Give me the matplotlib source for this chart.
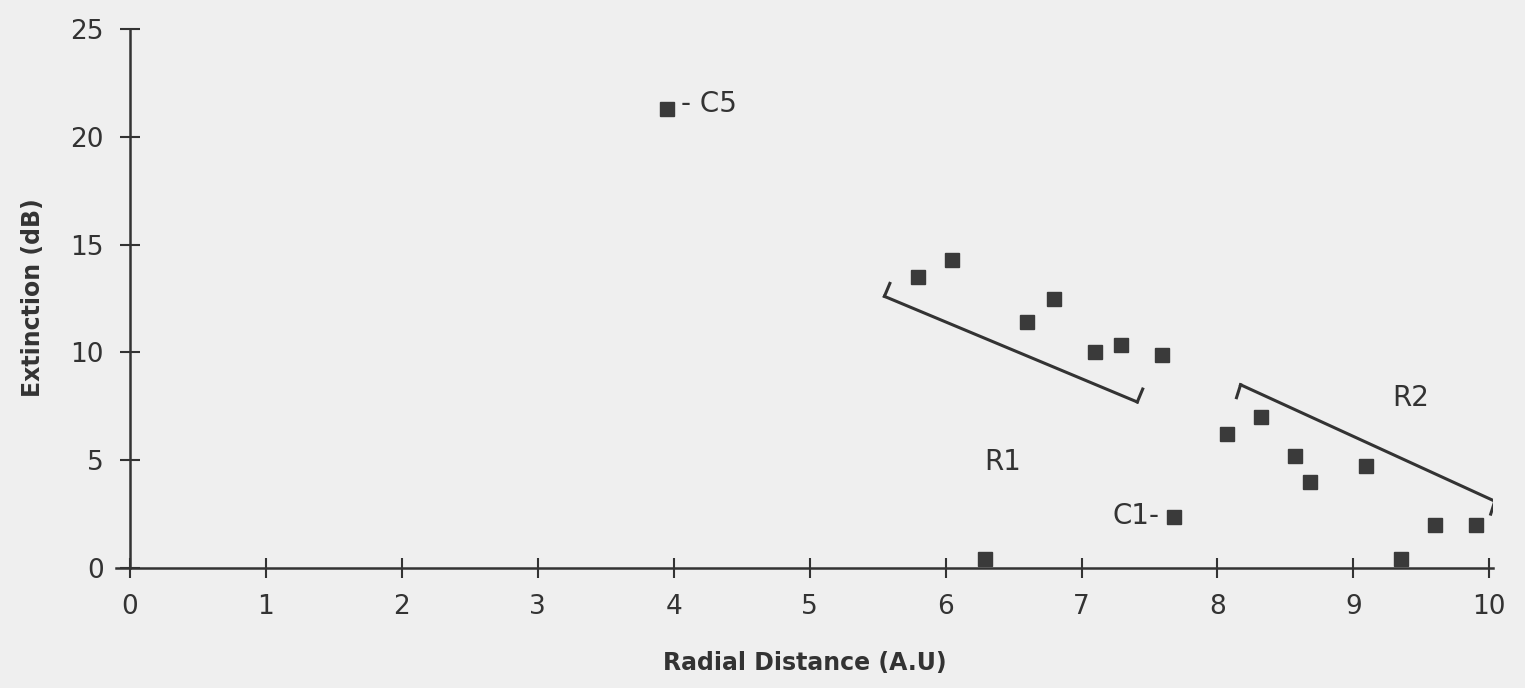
import matplotlib.pyplot as plt
import numpy as np

# measured points (radial distance, extinction dB)
dist = [3.95, 5.80, 6.05, 6.60, 6.80, 7.10, 7.29, 7.59, 6.29, 7.68,
        8.07, 8.32, 8.57, 8.68, 9.09, 9.35, 9.60, 9.90]
ext = [21.3, 13.5, 14.3, 11.4, 12.5, 10.0, 10.35, 9.9, 0.4, 2.35,
       6.2, 7.0, 5.2, 4.0, 4.75, 0.4, 2.0, 2.0]

# hand drawn trend lines
r1_x = [5.55, 7.41]
r1_y = [12.6, 7.7]
r2_x = [8.17, 10.04]
r2_y = [8.5, 3.1]

xticks = list(range(0, 11))
yticks = [0, 5, 10, 15, 20, 25]

bg = '#efefef'
ink = '#333333'

fig = plt.figure(figsize=(15.25, 6.88), dpi=100, facecolor=bg)
ax = fig.add_axes([0.0763, 0.1744, 0.903, 0.7866], facecolor=bg)

ax.plot(dist, ext, 's', ms=10, color='#3a3a3a', zorder=3, clip_on=False)

# lines with small end hooks (dx, dy of each hook)
for lx, ly, hk in [(r1_x, r1_y, (0.04, 0.6)), (r2_x, r2_y, (-0.03, -0.6))]:
    ax.plot(lx, ly, color=ink, lw=2.2)
    for x0, y0 in zip(lx, ly):
        ax.plot([x0, x0 + hk[0]], [y0, y0 + hk[1]], color=ink, lw=2.2)

tfont = dict(fontsize=20, color=ink)
ax.text(4.05, 21.5, '- C5', va='center', ha='left', **tfont)
ax.text(7.57, 2.4, 'C1-', va='center', ha='right', **tfont)
ax.text(6.42, 4.9, 'R1', va='center', ha='center', **tfont)
ax.text(9.42, 7.9, 'R2', va='center', ha='center', **tfont)

ax.set_xlim(-0.1, 10.03)
ax.set_ylim(0, 25.1)
ax.spines['left'].set_position(('data', 0))
ax.spines['left'].set_bounds(0, 25)
ax.spines['top'].set_visible(False)
ax.spines['right'].set_visible(False)
for s in ['left', 'bottom']:
    ax.spines[s].set_color(ink)
    ax.spines[s].set_linewidth(1.8)

ax.set_xticks(xticks)
ax.set_yticks(yticks)
ax.tick_params(direction='inout', length=14, width=1.5, color=ink,
               labelsize=19, labelcolor=ink)
ax.tick_params(axis='x', pad=12)
ax.tick_params(axis='y', pad=12)

ax.set_xlabel('Radial Distance (A.U)', fontsize=17, fontweight='bold',
              color=ink, labelpad=22)
ax.set_ylabel('Extinction (dB)', fontsize=17, fontweight='bold',
              color=ink, labelpad=18)

fig.savefig('out.png', dpi=100, facecolor=bg)
